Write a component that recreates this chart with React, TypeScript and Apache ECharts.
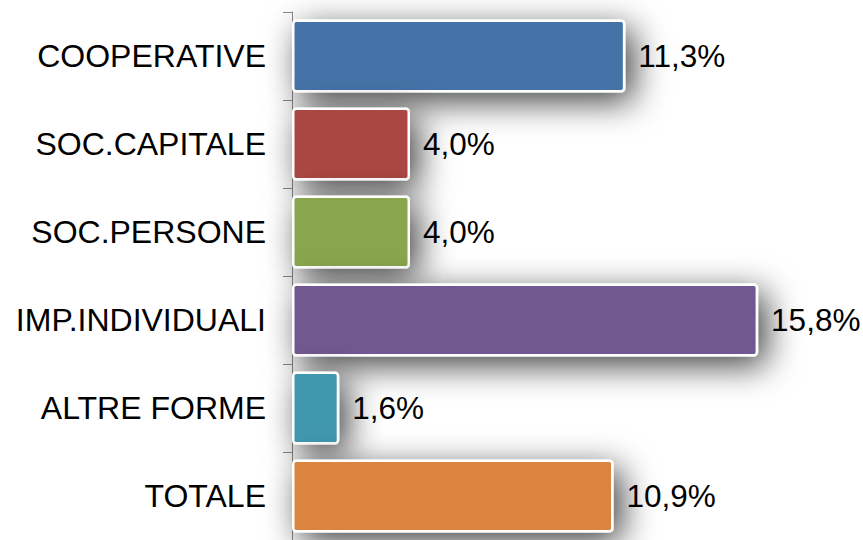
import React, { useEffect, useRef } from "react";
import * as echarts from "echarts";

const categories = ["COOPERATIVE", "SOC.CAPITALE", "SOC.PERSONE", "IMP.INDIVIDUALI", "ALTRE FORME", "TOTALE"];
const values = [11.3, 4.0, 4.0, 15.8, 1.6, 10.9];
const colors = ["#4572A7", "#AA4643", "#89A54E", "#71588F", "#4198AF", "#DB843D"];

export default function App() {
  const ref = useRef<HTMLDivElement>(null);
  useEffect(() => {
    if (!ref.current) return;
    const chart = echarts.init(ref.current, null, { renderer: "svg" });
    chart.setOption({
      animation: false,
      backgroundColor: "#ffffff",
      textStyle: { fontFamily: "Liberation Sans, Arial, sans-serif" },
      grid: { left: 292, right: 10.5, top: 12, height: 531, containLabel: false },
      xAxis: {
        type: "value",
        min: 0,
        max: 19,
        show: false,
        splitLine: { show: false },
      },
      yAxis: {
        type: "category",
        data: categories,
        inverse: true,
        axisLine: { show: true, lineStyle: { color: "#8a8a8a", width: 1 } },
        axisTick: { show: true, length: 9, lineStyle: { color: "#8a8a8a" } },
        axisLabel: {
          color: "#000000",
          fontSize: 32,
          margin: 26,
          fontFamily: "Liberation Sans, Arial, sans-serif",
        },
      },
      series: [
        {
          type: "bar",
          data: values.map((v, i) => ({ value: v, itemStyle: { color: colors[i] } })),
          barCategoryGap: "17%",
          itemStyle: {
            borderColor: "#ffffff",
            borderWidth: 2.5,
            borderRadius: 3,
            shadowBlur: 34,
            shadowColor: "rgba(0,0,0,0.75)",
            shadowOffsetX: 8,
            shadowOffsetY: 9,
          },
          label: {
            show: true,
            position: "right",
            distance: 13,
            color: "#000000",
            fontSize: 31.5,
            fontFamily: "Liberation Sans, Arial, sans-serif",
            formatter: (p: any) => p.value.toFixed(1).replace(".", ",") + "%",
          },
        },
      ],
    });
    return () => chart.dispose();
  }, []);
  return (
    <div
      ref={ref}
      style={{ position: "fixed", left: 0, top: 0, width: 863, height: 540 }}
    />
  );
}
